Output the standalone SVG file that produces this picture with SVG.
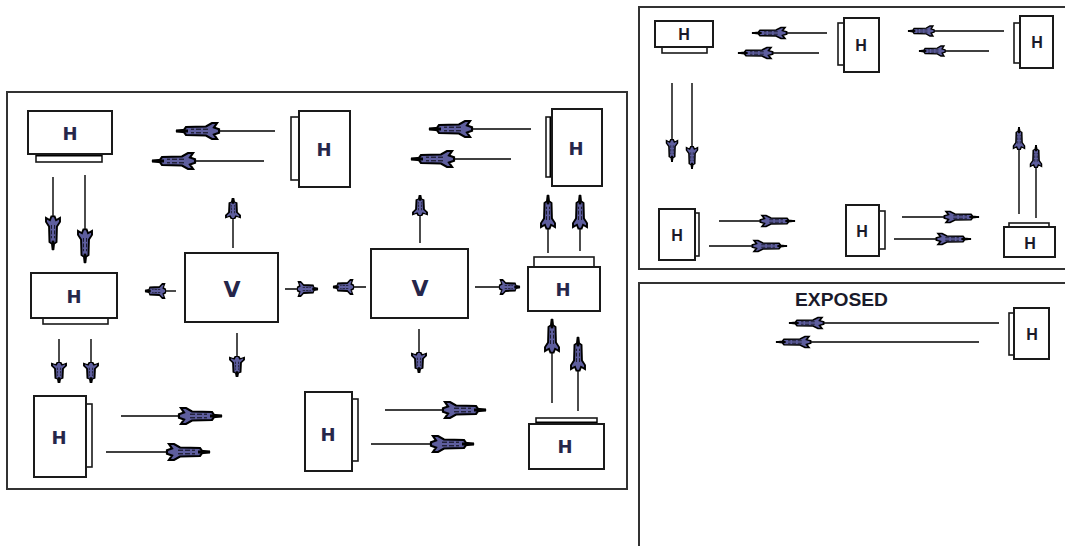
<svg xmlns="http://www.w3.org/2000/svg" width="1065" height="546" viewBox="0 0 1065 546">
<style>
.frame{fill:none;stroke:#333;stroke-width:2}
.box{fill:#fff;stroke:#1a1a1a;stroke-width:2}
.bar{fill:#fff;stroke:#1a1a1a;stroke-width:1.6}
.thick{stroke:#000;stroke-width:3}
.hl{font-family:"DejaVu Sans",Verdana,sans-serif;font-weight:bold;font-size:18px;fill:#26264a;text-anchor:middle}
.vl{font-family:"DejaVu Sans",Verdana,sans-serif;font-weight:bold;font-size:22px;fill:#26264a;text-anchor:middle}
.hr{font-family:"Liberation Sans",Arial,sans-serif;font-weight:bold;font-size:16px;fill:#1a1a2a;text-anchor:middle}
.lbl{font-family:"Liberation Sans",Arial,sans-serif;font-weight:bold;font-size:18px;fill:#1a1a2a}
.c line{stroke:#000;stroke-width:1.4}
.l46{marker-end:url(#mL)}
.l36{marker-end:url(#mD)}
.l22{marker-end:url(#mS)}
.r37{marker-end:url(#mR)}
.r28{marker-end:url(#mRs)}
.r24{marker-end:url(#mRv)}
</style>
<defs>
<g id="hd">
<path d="M46,0 L38,-1.2 L36,-4 L16,-4.5 L10,-8 L5,-8 L8,-3.5 L3,-1.8 L3,1.8 L8,3.5 L5,8 L10,8 L16,4.5 L36,4 L38,1.2 Z" fill="#5e5e9e" stroke="#000" stroke-width="2.2"/>
<path d="M34,0 H46" stroke="#000" stroke-width="3"/>
<path d="M14,-1.8 H31 M14,1.8 H31" stroke="#000" stroke-width="0.9" stroke-dasharray="5 2"/>
</g>
<marker id="mL" viewBox="0 -8 46 16" refX="46" refY="0" markerUnits="userSpaceOnUse" markerWidth="46" markerHeight="16" preserveAspectRatio="none" orient="auto" overflow="visible"><use href="#hd"/></marker>
<marker id="mD" viewBox="0 -8 46 16" refX="46" refY="0" markerUnits="userSpaceOnUse" markerWidth="36" markerHeight="14" preserveAspectRatio="none" orient="auto" overflow="visible"><use href="#hd"/></marker>
<marker id="mS" viewBox="0 -8 46 16" refX="46" refY="0" markerUnits="userSpaceOnUse" markerWidth="22" markerHeight="14" preserveAspectRatio="none" orient="auto" overflow="visible"><use href="#hd"/></marker>
<marker id="mR" viewBox="0 -8 46 16" refX="46" refY="0" markerUnits="userSpaceOnUse" markerWidth="37" markerHeight="11" preserveAspectRatio="none" orient="auto" overflow="visible"><use href="#hd"/></marker>
<marker id="mRs" viewBox="0 -8 46 16" refX="46" refY="0" markerUnits="userSpaceOnUse" markerWidth="28" markerHeight="10" preserveAspectRatio="none" orient="auto" overflow="visible"><use href="#hd"/></marker>
<marker id="mRv" viewBox="0 -8 46 16" refX="46" refY="0" markerUnits="userSpaceOnUse" markerWidth="24" markerHeight="11" preserveAspectRatio="none" orient="auto" overflow="visible"><use href="#hd"/></marker>
</defs>
<rect width="1065" height="546" fill="#fff"/>
<g id="frames">
<rect class="frame" x="7" y="92" width="620" height="397"/>
<rect class="frame" x="639" y="7" width="440" height="262"/>
<rect class="frame" x="639" y="283" width="440" height="280"/>
</g>
<g id="h1"><rect class="bar" x="36" y="154" width="66" height="8"/><line class="thick" x1="36" y1="155" x2="102" y2="155"/><rect class="box" x="28" y="111" width="84" height="43"/><text class="hl" x="70" y="140">H</text></g>
<g id="h2"><rect class="bar" x="291" y="117" width="8" height="63"/><rect class="box" x="299" y="111" width="51" height="76"/><text class="hl" x="324" y="156">H</text></g>
<g id="h3"><rect class="bar" x="546" y="117" width="6" height="60"/><line class="thick" x1="551" y1="117" x2="551" y2="177"/><rect class="box" x="552" y="109" width="50" height="77"/><text class="hl" x="576" y="155">H</text></g>
<g id="h4"><rect class="bar" x="43" y="318" width="65" height="6"/><rect class="box" x="31" y="273" width="86" height="45"/><text class="hl" x="74" y="303">H</text></g>
<g id="v1"><rect class="box" x="185" y="253" width="93" height="69"/><text class="vl" x="232" y="297">V</text></g>
<g id="v2"><rect class="box" x="371" y="249" width="97" height="69"/><text class="vl" x="420" y="296">V</text></g>
<g id="h5"><rect class="bar" x="534" y="257" width="60" height="10"/><rect class="box" x="528" y="267" width="72" height="44"/><text class="hl" x="563" y="296">H</text></g>
<g id="h6"><rect class="bar" x="86" y="404" width="6" height="63"/><rect class="box" x="34" y="396" width="52" height="81"/><text class="hl" x="59" y="444">H</text></g>
<g id="h7"><rect class="bar" x="352" y="399" width="6" height="62"/><rect class="box" x="305" y="392" width="47" height="79"/><text class="hl" x="328" y="441">H</text></g>
<g id="h8"><rect class="bar" x="536" y="418" width="61" height="6"/><line class="thick" x1="536" y1="423" x2="597" y2="423"/><rect class="box" x="529" y="424" width="75" height="45"/><text class="hl" x="565" y="453">H</text></g>
<g id="r1"><rect class="bar" x="662" y="47" width="45" height="6"/><rect class="box" x="655" y="21" width="58" height="26"/><text class="hr" x="684" y="40">H</text></g>
<g id="r2"><rect class="bar" x="838" y="23" width="6" height="42"/><rect class="box" x="844" y="18" width="35" height="54"/><text class="hr" x="861" y="51">H</text></g>
<g id="r3"><rect class="bar" x="1014" y="23" width="6" height="40"/><rect class="box" x="1020" y="16" width="33" height="52"/><text class="hr" x="1037" y="48">H</text></g>
<g id="r4"><rect class="bar" x="695" y="213" width="4" height="43"/><rect class="box" x="659" y="209" width="36" height="51"/><text class="hr" x="677" y="241">H</text></g>
<g id="r5"><rect class="bar" x="879" y="211" width="6" height="38"/><rect class="box" x="846" y="205" width="33" height="51"/><text class="hr" x="862" y="237">H</text></g>
<g id="r6"><rect class="bar" x="1009" y="223" width="40" height="4"/><rect class="box" x="1004" y="227" width="51" height="30"/><text class="hr" x="1030" y="249">H</text></g>
<g id="exposed"><text class="lbl" x="795" y="306" textLength="93" lengthAdjust="spacingAndGlyphs">EXPOSED</text></g>
<g id="r7"><rect class="bar" x="1009" y="313" width="5" height="42"/><rect class="box" x="1014" y="308" width="35" height="51"/><text class="hr" x="1032" y="340">H</text></g>
<g id="connectors" class="c">
<line class="l46" x1="275" y1="131" x2="176" y2="131"/>
<line class="l46" x1="264" y1="161" x2="152" y2="161"/>
<line class="l36" x1="53" y1="177" x2="53" y2="250"/>
<line class="l36" x1="85" y1="175" x2="85" y2="263"/>
<line class="l22" x1="233" y1="248" x2="233" y2="198"/>
<line class="l22" x1="176" y1="291" x2="145" y2="291"/>
<line class="l22" x1="285" y1="289" x2="318" y2="289"/>
<line class="l22" x1="237" y1="333" x2="237" y2="377"/>
<line class="l22" x1="59" y1="339" x2="59" y2="383"/>
<line class="l22" x1="91" y1="339" x2="91" y2="383"/>
<line class="l46" x1="121" y1="416" x2="222" y2="416"/>
<line class="l46" x1="106" y1="452" x2="210" y2="452"/>
<line class="l46" x1="531" y1="129" x2="429" y2="129"/>
<line class="l46" x1="511" y1="159" x2="411" y2="159"/>
<line class="l22" x1="420" y1="243" x2="420" y2="195"/>
<line class="l36" x1="548" y1="253" x2="548" y2="195"/>
<line class="l36" x1="580" y1="251" x2="580" y2="195"/>
<line class="l22" x1="366" y1="287" x2="333" y2="287"/>
<line class="l22" x1="475" y1="287" x2="520" y2="287"/>
<line class="l22" x1="419" y1="329" x2="419" y2="373"/>
<line class="l46" x1="385" y1="410" x2="486" y2="410"/>
<line class="l46" x1="371" y1="444" x2="474" y2="444"/>
<line class="l36" x1="552" y1="403" x2="552" y2="319"/>
<line class="l36" x1="578" y1="411" x2="578" y2="337"/>
<line class="r37" x1="827" y1="33" x2="752" y2="33"/>
<line class="r37" x1="819" y1="53" x2="738" y2="53"/>
<line class="r28" x1="1004" y1="31" x2="908" y2="31"/>
<line class="r28" x1="989" y1="51" x2="919" y2="51"/>
<line class="r24" x1="672" y1="83" x2="672" y2="162"/>
<line class="r24" x1="692" y1="83" x2="692" y2="169"/>
<line class="r24" x1="1019" y1="214" x2="1019" y2="127"/>
<line class="r24" x1="1036" y1="218" x2="1036" y2="145"/>
<line class="r37" x1="719" y1="221" x2="795" y2="221"/>
<line class="r37" x1="709" y1="246" x2="787" y2="246"/>
<line class="r37" x1="902" y1="217" x2="979" y2="217"/>
<line class="r37" x1="894" y1="239" x2="971" y2="239"/>
<line class="r37" x1="999" y1="323" x2="789" y2="323"/>
<line class="r37" x1="979" y1="342" x2="776" y2="342"/>
</g>
</svg>
